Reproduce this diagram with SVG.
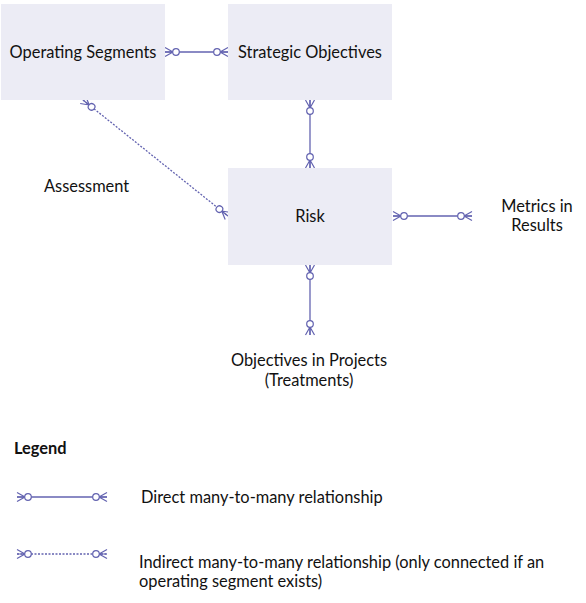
<svg xmlns="http://www.w3.org/2000/svg" width="586" height="603" viewBox="0 0 586 603">
<style>
.box{fill:#ececf5;}
.t{font-family:Lato,"Liberation Sans",sans-serif;font-size:16.4px;fill:#111;}
.m{text-anchor:middle;}
.b{font-weight:bold;}
.ln{stroke:#6363b0;stroke-width:1.3;fill:none;}
.dash{stroke-dasharray:2,1.5;}
</style>
<defs>
<marker id="cf" markerUnits="userSpaceOnUse" viewBox="-16 -8 20 16" refX="0" refY="0" markerWidth="20" markerHeight="16" orient="auto-start-reverse" overflow="visible">
<path d="M0,-4.5 L-8,0 M0,4.5 L-8,0 M0,0 L-8,0" stroke="#6363b0" stroke-width="1.2" fill="none"/>
<circle cx="-11" cy="0" r="3.3" fill="#fff" stroke="#6363b0" stroke-width="1.2"/>
</marker>
</defs>
<g id="connectors">
<line class="ln" x1="165" y1="52" x2="228" y2="52" marker-start="url(#cf)" marker-end="url(#cf)"/>
<line class="ln" x1="310" y1="100" x2="310" y2="168" marker-start="url(#cf)" marker-end="url(#cf)"/>
<line class="ln" x1="393" y1="216" x2="472" y2="216" marker-start="url(#cf)" marker-end="url(#cf)"/>
<line class="ln" x1="310" y1="265" x2="310" y2="335" marker-start="url(#cf)" marker-end="url(#cf)"/>
<line class="ln dash" x1="83" y1="100" x2="228" y2="216" marker-start="url(#cf)" marker-end="url(#cf)"/>
<line class="ln" x1="17" y1="497" x2="107" y2="497" marker-start="url(#cf)" marker-end="url(#cf)"/>
<line class="ln dash" x1="17" y1="554" x2="107" y2="554" marker-start="url(#cf)" marker-end="url(#cf)"/>
</g>
<g id="operating-segments">
<rect class="box" x="1" y="4" width="164" height="96"/>
<text class="t m" x="83" y="58">Operating Segments</text>
</g>
<g id="strategic-objectives">
<rect class="box" x="228" y="4" width="164" height="96"/>
<text class="t m" x="310" y="58">Strategic Objectives</text>
</g>
<g id="risk">
<rect class="box" x="228" y="168" width="164" height="97"/>
<text class="t m" x="310" y="222">Risk</text>
</g>
<g id="assessment">
<text class="t" x="44" y="192">Assessment</text>
</g>
<g id="metrics">
<text class="t m" x="537" y="212">Metrics in</text>
<text class="t m" x="537" y="231">Results</text>
</g>
<g id="objectives-projects">
<text class="t m" x="309" y="366">Objectives in Projects</text>
<text class="t m" x="309" y="386">(Treatments)</text>
</g>
<g id="legend">
<text class="t b" x="14" y="454">Legend</text>
<text class="t" x="141" y="503">Direct many-to-many relationship</text>
<text class="t" x="139" y="568">Indirect many-to-many relationship (only connected if an</text>
<text class="t" x="139" y="587">operating segment exists)</text>
</g>
</svg>
